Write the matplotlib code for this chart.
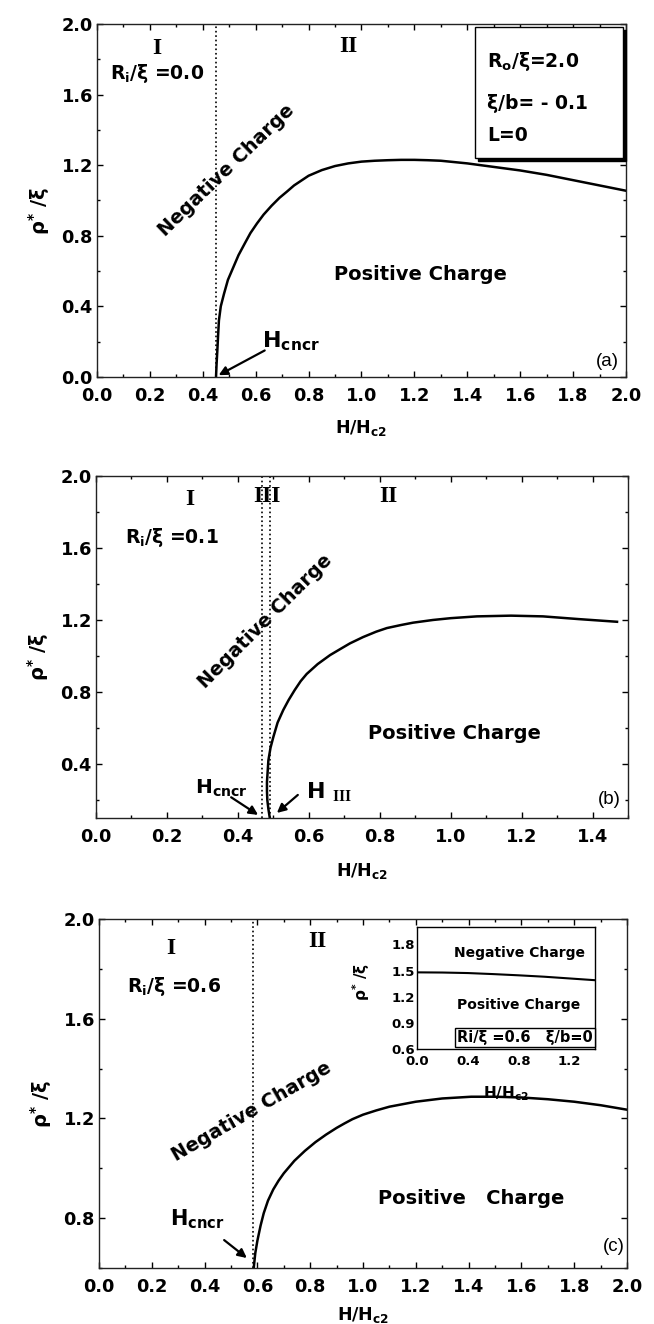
import matplotlib
matplotlib.use('Agg')
import matplotlib.pyplot as plt
import matplotlib.patches as mpatches
import matplotlib.transforms as mtransforms
from matplotlib.ticker import MultipleLocator, FormatStrFormatter

plt.rcParams['font.family'] = 'DejaVu Sans'
plt.rcParams['font.weight'] = 'bold'
plt.rcParams['axes.labelweight'] = 'bold'
plt.rcParams['mathtext.fontset'] = 'custom'
plt.rcParams['mathtext.bf'] = 'DejaVu Sans:bold'
plt.rcParams['mathtext.it'] = 'DejaVu Sans:bold'
plt.rcParams['mathtext.sf'] = 'DejaVu Sans:bold'
plt.rcParams['mathtext.rm'] = 'Liberation Serif:bold'
plt.rcParams['mathtext.default'] = 'bf'

# (a) Ri/xi = 0.0
h_a = [0.450, 0.452, 0.455, 0.458, 0.461, 0.468, 0.48, 0.495, 0.515, 0.535,
       0.56, 0.58, 0.605, 0.63, 0.66, 0.69, 0.718, 0.745, 0.77, 0.80,
       0.85, 0.90, 0.95, 1.0, 1.05, 1.1, 1.15, 1.2, 1.25, 1.3,
       1.4, 1.5, 1.6, 1.7, 1.8, 1.9, 2.0]
rho_a = [0.0, 0.07, 0.15, 0.24, 0.32, 0.40, 0.47, 0.55, 0.62, 0.69,
         0.76, 0.815, 0.87, 0.92, 0.97, 1.015, 1.05, 1.085, 1.11, 1.14,
         1.172, 1.195, 1.21, 1.22, 1.225, 1.228, 1.23, 1.23, 1.228, 1.225,
         1.21, 1.19, 1.17, 1.145, 1.115, 1.085, 1.055]
hcncr_a = 0.45

# (b) Ri/xi = 0.1
h_b = [0.490, 0.486, 0.483, 0.482, 0.482, 0.484, 0.486, 0.492, 0.50, 0.512,
       0.528, 0.543, 0.56, 0.577, 0.594, 0.625, 0.66, 0.69, 0.716, 0.753,
       0.79, 0.82, 0.86, 0.894, 0.95, 1.0, 1.074, 1.17, 1.26, 1.36, 1.469]
rho_b = [0.10, 0.15, 0.20, 0.25, 0.30, 0.36, 0.42, 0.49, 0.55, 0.63,
         0.70, 0.755, 0.81, 0.86, 0.90, 0.955, 1.005, 1.04, 1.07, 1.105,
         1.135, 1.155, 1.172, 1.185, 1.20, 1.21, 1.22, 1.224, 1.22, 1.205, 1.19]
hcncr_b = 0.468
h3_b = 0.49

# (c) Ri/xi = 0.6
h_c = [0.586, 0.589, 0.592, 0.60, 0.612, 0.624, 0.64, 0.66, 0.68, 0.70,
       0.74, 0.78, 0.82, 0.86, 0.90, 0.93, 0.96, 1.0, 1.05, 1.1,
       1.2, 1.3, 1.41, 1.5, 1.6, 1.7, 1.8, 1.9, 2.0]
rho_c = [0.60, 0.63, 0.66, 0.71, 0.77, 0.82, 0.87, 0.915, 0.95, 0.98,
         1.03, 1.07, 1.105, 1.135, 1.162, 1.18, 1.197, 1.215, 1.232, 1.247,
         1.267, 1.28, 1.287, 1.287, 1.284, 1.277, 1.267, 1.253, 1.235]
hcncr_c = 0.585

# inset of (c): xi/b = 0
h_in = [0.0, 0.2, 0.4, 0.6, 0.8, 1.0, 1.2, 1.4]
rho_in = [1.48, 1.478, 1.472, 1.46, 1.446, 1.43, 1.41, 1.39]
inset_xticks = [0.0, 0.4, 0.8, 1.2]
inset_yticks = [0.6, 0.9, 1.2, 1.5, 1.8]

SERIF = 'Liberation Serif'


def style_axes(ax, xmax, ymin):
    ax.set_xlim(0, xmax)
    ax.set_ylim(ymin, 2.0)
    ax.xaxis.set_major_locator(MultipleLocator(0.2))
    ax.xaxis.set_minor_locator(MultipleLocator(0.1))
    ax.yaxis.set_major_locator(MultipleLocator(0.4))
    ax.yaxis.set_minor_locator(MultipleLocator(0.2))
    ax.xaxis.set_major_formatter(FormatStrFormatter('%.1f'))
    ax.yaxis.set_major_formatter(FormatStrFormatter('%.1f'))
    ax.tick_params(which='both', direction='in', top=True, right=True,
                   width=1.0, labelsize=12.8)
    ax.tick_params(which='major', length=4.5)
    ax.tick_params(which='minor', length=2.5)
    ax.tick_params(axis='x', which='major', pad=7)
    ax.tick_params(axis='y', which='major', pad=3)
    for s in ax.spines.values():
        s.set_linewidth(1.0)
        s.set_color('#222222')
    ax.set_xlabel('H/H$_{c2}$', fontsize=12.5)
    ax.set_ylabel('ρ$^{*}$ /ξ', fontsize=14)
    ax.yaxis.set_label_coords(-0.085, 0.47)


def region_labels(ax, items):
    for x, y, s in items:
        ax.text(x, y, s, family=SERIF, fontsize=17, weight='bold',
                ha='center', va='center')


def neg_label(ax, x, y, rot, size=13.8):
    ax.text(x, y, 'Negative Charge', fontsize=size, rotation=rot,
            ha='center', va='center', rotation_mode='anchor', zorder=5)


def arrow(ax, start, end):
    ax.annotate('', xy=end, xytext=start,
                arrowprops=dict(arrowstyle='-|>', lw=1.6, color='black',
                                mutation_scale=13, shrinkA=0, shrinkB=0))


fig = plt.figure(figsize=(6.54, 13.24), dpi=100)

# ---------------- (a) ----------------
ax1 = fig.add_axes([0.1483, 0.7153, 0.8089, 0.2666])
style_axes(ax1, 2.0, 0.0)
ax1.xaxis.set_label_coords(0.5, -0.115)
ax1.plot(h_a, rho_a, color='black', lw=1.8)
ax1.axvline(hcncr_a, color='black', ls=':', lw=1.2)
region_labels(ax1, [(0.227, 1.86, 'I'), (0.95, 1.87, 'II')])
ax1.text(0.05, 1.72, 'R$_i$/ξ =0.0', fontsize=13.5, ha='left', va='center')
neg_label(ax1, 0.49, 1.17, 44)
ax1.text(1.224, 0.578, 'Positive Charge', fontsize=14, ha='center', va='center')
ax1.text(0.625, 0.17, 'H$_{cncr}$', fontsize=16, ha='left', va='baseline')
arrow(ax1, (0.634, 0.15), (0.46, 0.01))
ax1.text(1.93, 0.085, '(a)', family='Liberation Sans', weight='normal',
         fontsize=13.5, ha='center', va='center')

# parameter box with drop shadow
shadow_tr = mtransforms.offset_copy(ax1.transData, fig=fig, x=3, y=-3, units='dots')
ax1.add_patch(mpatches.Rectangle((1.43, 1.24), 0.56, 0.74, transform=shadow_tr,
                                 facecolor='black', edgecolor='black',
                                 clip_on=False, zorder=3))
ax1.add_patch(mpatches.Rectangle((1.43, 1.24), 0.56, 0.74, facecolor='white',
                                 edgecolor='black', lw=1.0, clip_on=False, zorder=4))
for y, s in [(1.79, 'R$_o$/ξ=2.0'), (1.55, 'ξ/b= - 0.1'), (1.37, 'L=0')]:
    ax1.text(1.475, y, s, fontsize=13.5, ha='left', va='center', zorder=5)

# ---------------- (b) ----------------
ax2 = fig.add_axes([0.1468, 0.3822, 0.8135, 0.2583])
style_axes(ax2, 1.5, 0.1)
ax2.xaxis.set_label_coords(0.5, -0.125)
ax2.plot(h_b, rho_b, color='black', lw=1.8)
ax2.axvline(hcncr_b, color='black', ls=':', lw=1.2)
ax2.axvline(h3_b, color='black', ls=':', lw=1.2)
region_labels(ax2, [(0.264, 1.87, 'I'), (0.481, 1.885, 'III'), (0.824, 1.885, 'II')])
ax2.text(0.082, 1.66, 'R$_i$/ξ =0.1', fontsize=13.5, ha='left', va='center')
neg_label(ax2, 0.476, 1.19, 45)
ax2.text(1.01, 0.567, 'Positive Charge', fontsize=14, ha='center', va='center')
ax2.text(0.28, 0.235, 'H$_{cncr}$', fontsize=14.5, ha='left', va='baseline')
arrow(ax2, (0.381, 0.215), (0.457, 0.117))
ax2.text(0.593, 0.21, 'H $_{\\mathrm{III}}$', fontsize=16, ha='left', va='baseline')
arrow(ax2, (0.569, 0.228), (0.51, 0.128))
ax2.text(1.447, 0.2, '(b)', family='Liberation Sans', weight='normal',
         fontsize=13.5, ha='center', va='center')

# ---------------- (c) ----------------
ax3 = fig.add_axes([0.1514, 0.0423, 0.8073, 0.2636])
style_axes(ax3, 2.0, 0.6)
ax3.xaxis.set_label_coords(0.5, -0.105)
ax3.plot(h_c, rho_c, color='black', lw=1.8)
ax3.axvline(hcncr_c, color='black', ls=':', lw=1.2)
region_labels(ax3, [(0.273, 1.88, 'I'), (0.826, 1.91, 'II')])
ax3.text(0.106, 1.728, 'R$_i$/ξ =0.6', fontsize=13.5, ha='left', va='center')
neg_label(ax3, 0.577, 1.226, 30)
ax3.text(1.41, 0.88, 'Positive   Charge', fontsize=14, ha='center', va='center')
ax3.text(0.27, 0.77, 'H$_{cncr}$', fontsize=15, ha='left', va='baseline')
arrow(ax3, (0.474, 0.712), (0.56, 0.64))
ax3.text(1.95, 0.685, '(c)', family='Liberation Sans', weight='normal',
         fontsize=13.5, ha='center', va='center')

# inset: xi/b = 0
axin = fig.add_axes([0.6376, 0.2077, 0.2722, 0.0921])
axin.plot(h_in, rho_in, color='black', lw=1.5)
axin.set_xlim(0, 1.4)
axin.set_ylim(0.6, 2.0)
axin.set_xticks(inset_xticks)
axin.set_yticks(inset_yticks)
axin.xaxis.set_major_formatter(FormatStrFormatter('%.1f'))
axin.yaxis.set_major_formatter(FormatStrFormatter('%.1f'))
axin.tick_params(direction='in', length=0, labelsize=9.5)
axin.tick_params(axis='x', pad=4.5)
axin.tick_params(axis='y', pad=1.5)
for s in axin.spines.values():
    s.set_linewidth(1.0)
axin.set_xlabel('H/H$_{c2}$', fontsize=11)
axin.xaxis.set_label_coords(0.5, -0.29)
axin.set_ylabel('ρ$^{*}$ /ξ', fontsize=11)
axin.yaxis.set_label_coords(-0.25, 0.55)
axin.text(0.81, 1.70, 'Negative Charge', fontsize=10, ha='center', va='center')
axin.text(0.80, 1.11, 'Positive Charge', fontsize=10, ha='center', va='center')
axin.text(0.85, 0.73, 'Ri/ξ =0.6   ξ/b=0', fontsize=10.5, ha='center', va='center',
          bbox=dict(boxstyle='square,pad=0.15', facecolor='white',
                    edgecolor='black', lw=1.0))

fig.savefig('out.png', dpi=100)
